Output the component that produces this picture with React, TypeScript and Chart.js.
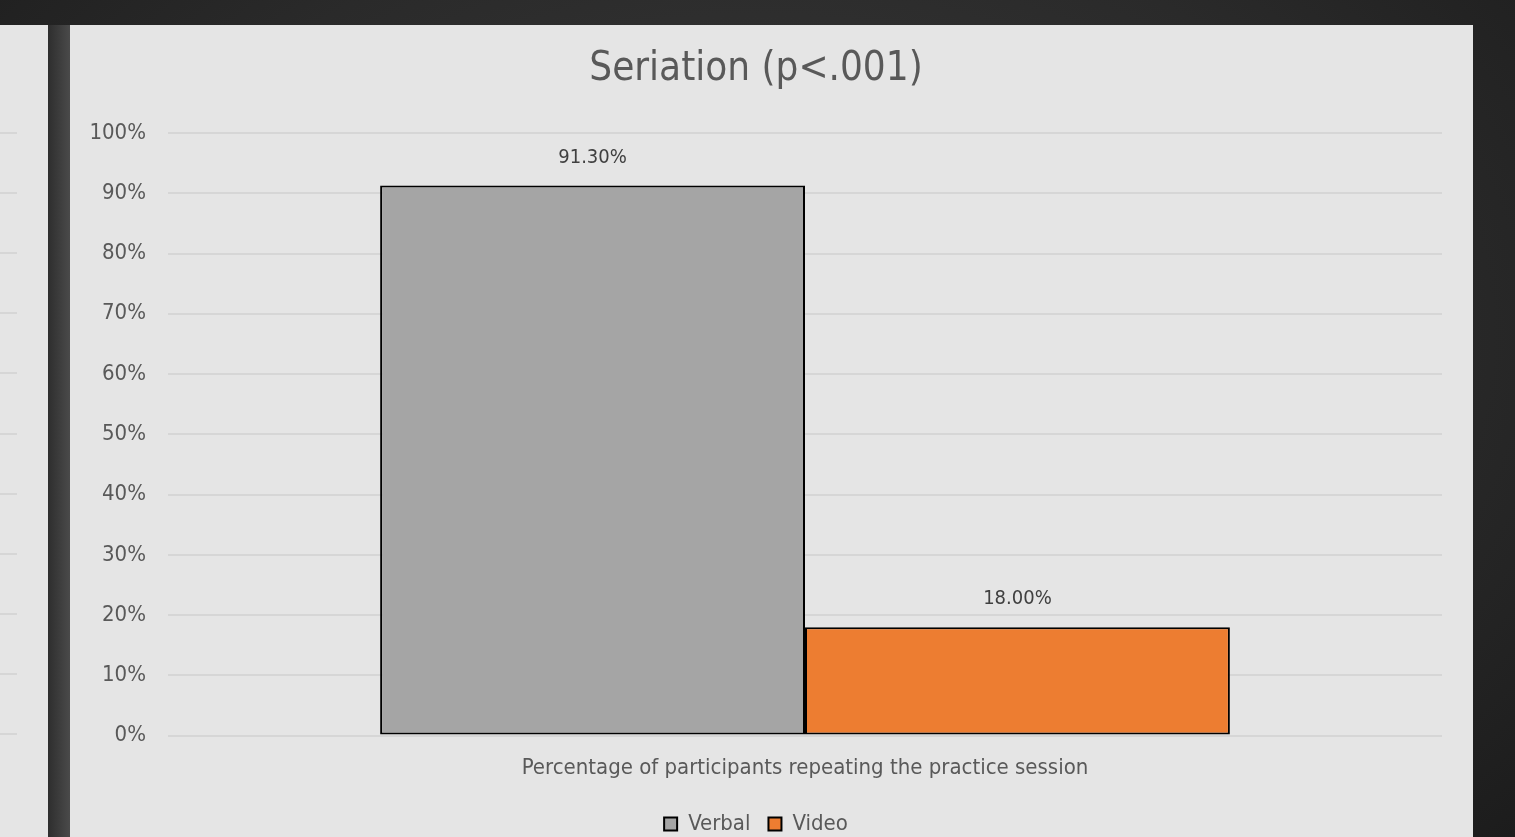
import React, { useEffect, useRef } from "react";
import { Chart, registerables } from "chart.js";

Chart.register(...registerables);

const categories = ["Percentage of participants repeating the practice session"];
const seriesNames = ["Verbal", "Video"];
const verbalValues = [91.3];
const videoValues = [18.0];
const yTicks = [0, 10, 20, 30, 40, 50, 60, 70, 80, 90, 100];
const titleText = "Seriation (p<.001)";

const FONT = '"Liberation Sans Narrow", "DejaVu Sans Condensed", "Open Sans", sans-serif';
const TEXT = "#595959";

const dataLabelPlugin = {
  id: "dataLabels",
  afterDatasetsDraw(chart: any) {
    const ctx = chart.ctx;
    ctx.save();
    ctx.font = `20px ${FONT}`;
    ctx.fillStyle = "#404040";
    ctx.textAlign = "center";
    ctx.textBaseline = "middle";
    chart.data.datasets.forEach((ds: any, i: number) => {
      const meta = chart.getDatasetMeta(i);
      meta.data.forEach((el: any, j: number) => {
        const v = ds.data[j] as number;
        ctx.fillText(v.toFixed(2) + "%", el.x, el.y - 28);
      });
    });
    ctx.restore();
  },
};

export default function App() {
  const ref = useRef<HTMLCanvasElement>(null);
  useEffect(() => {
    if (!ref.current) return;
    const chart = new Chart(ref.current, {
      type: "bar",
      data: {
        labels: categories,
        datasets: [
          {
            label: seriesNames[0],
            data: verbalValues,
            backgroundColor: "#a5a5a5",
            borderColor: "#000000",
            borderWidth: 2,
            borderSkipped: false,
          },
          {
            label: seriesNames[1],
            data: videoValues,
            backgroundColor: "#ed7d31",
            borderColor: "#000000",
            borderWidth: 2,
            borderSkipped: false,
          },
        ],
      },
      options: {
        animation: false,
        responsive: false,
        maintainAspectRatio: false,
        devicePixelRatio: 1,
        layout: { padding: { left: 0, right: 31, top: 0, bottom: 0 } },
        datasets: { bar: { categoryPercentage: 0.667, barPercentage: 1.0 } },
        plugins: {
          title: {
            display: true,
            text: titleText,
            color: TEXT,
            font: { family: FONT, size: 40, weight: "normal" },
            padding: { top: 21, bottom: 39 },
          },
          legend: {
            position: "bottom",
            labels: {
              color: TEXT,
              font: { family: FONT, size: 22 },
              boxWidth: 13,
              boxHeight: 13,
              padding: 18,
            },
          },
          tooltip: { enabled: false },
        },
        scales: {
          x: {
            grid: { display: false },
            border: { display: false },
            afterFit(scale: any) {
              scale.height += 3;
            },
            ticks: { color: TEXT, font: { family: FONT, size: 22 }, padding: 11 },
          },
          y: {
            min: 0,
            max: 100,
            afterFit(scale: any) {
              scale.width = 98;
            },
            afterBuildTicks(scale: any) {
              scale.ticks = yTicks.map((v) => ({ value: v }));
            },
            grid: { color: "#d6d6d6", lineWidth: 2, drawTicks: false },
            border: { display: false },
            ticks: {
              color: TEXT,
              font: { family: FONT, size: 22 },
              padding: 22,
              callback: (v: any) => v + "%",
            },
          },
        },
      },
      plugins: [dataLabelPlugin],
    });
    return () => chart.destroy();
  }, []);

  return (
    <div
      style={{
        position: "fixed",
        left: 0,
        top: 0,
        width: 1515,
        height: 837,
        overflow: "hidden",
        background:
          "radial-gradient(ellipse at 50% 40%, #3a3a3a 0%, #2a2a2a 60%, #1c1c1c 100%)",
      }}
    >
      <div
        style={{
          position: "absolute",
          left: 48,
          top: 25,
          width: 22,
          height: 812,
          background: "linear-gradient(to right, #2e2e2e, #4a4a4a)",
        }}
      />
      <div
        style={{
          position: "absolute",
          left: 0,
          top: 25,
          width: 48,
          height: 812,
          background: "#e5e5e5",
        }}
      >
        <div
          style={{
            position: "absolute",
            left: 0,
            top: 107,
            width: 17,
            height: 603,
            background:
              "repeating-linear-gradient(to bottom, #d6d6d6 0px, #d6d6d6 2px, transparent 2px, transparent 60.1px)",
          }}
        />
      </div>
      <div
        style={{
          position: "absolute",
          left: 70,
          top: 25,
          width: 1403,
          height: 830,
          background: "#e5e5e5",
        }}
      >
        <canvas ref={ref} width={1403} height={820} style={{ display: "block" }} />
      </div>
    </div>
  );
}
